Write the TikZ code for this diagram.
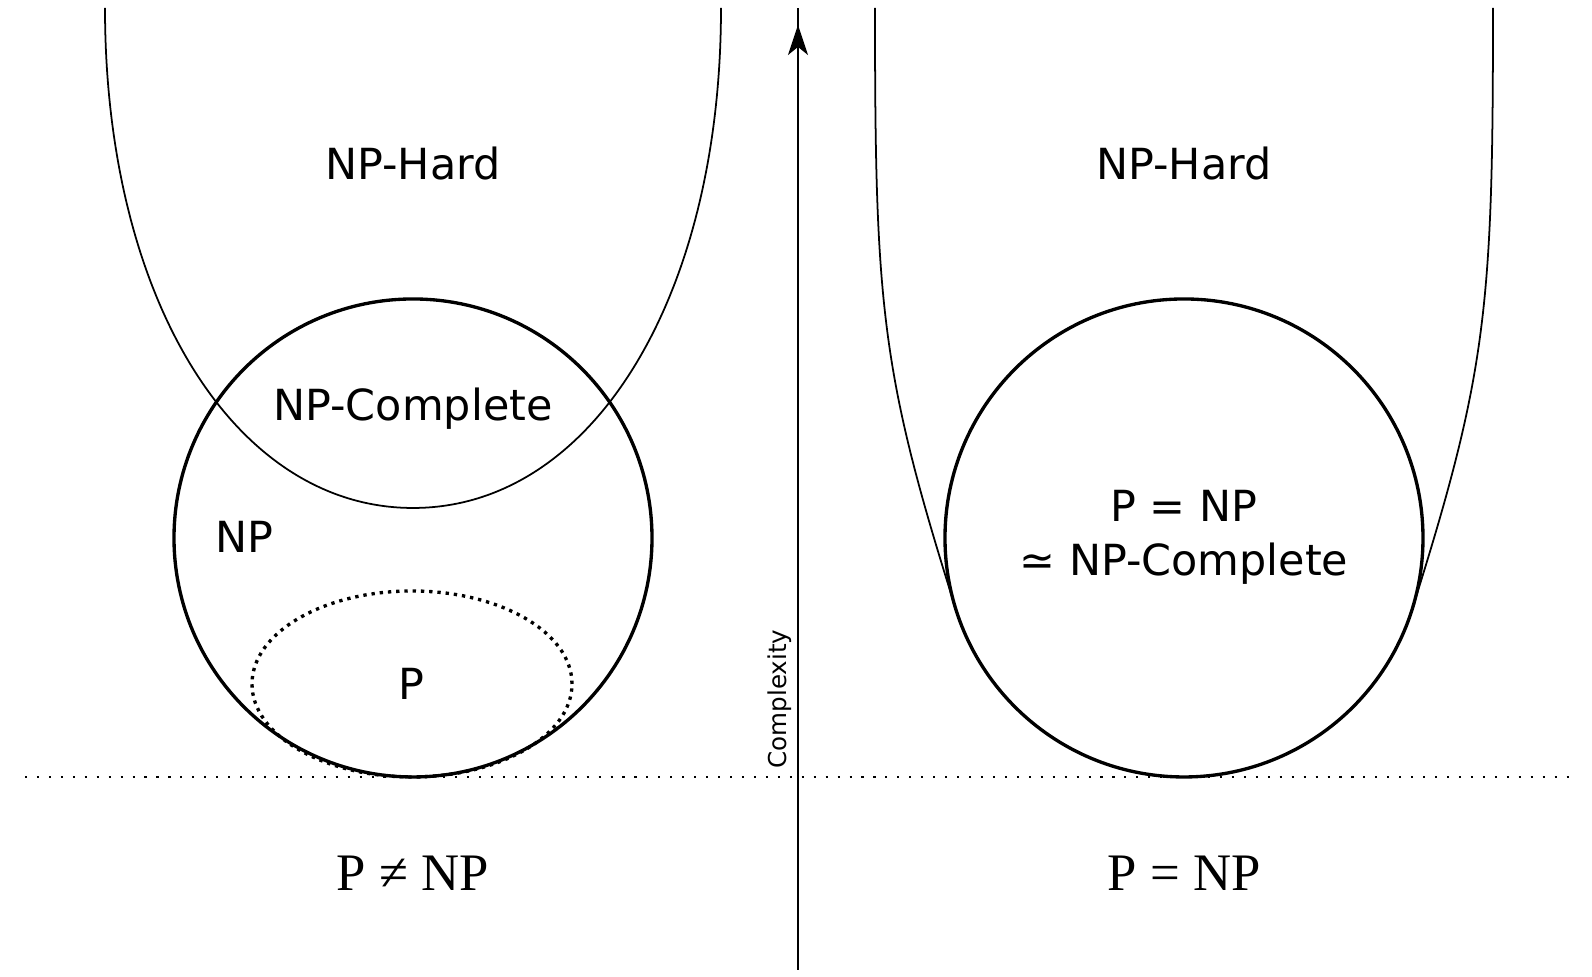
\documentclass[tikz,border=0pt]{standalone}
\usepackage{fontspec}
\setmainfont{DejaVu Sans}
\newfontfamily\casefont{Liberation Serif}
\usetikzlibrary{arrows.meta}

\begin{document}
\begin{tikzpicture}[
  setline/.style={line width=0.95pt},
  hardline/.style={line width=0.5pt},
  classlbl/.style={font=\fontsize{12.2}{15}\selectfont, anchor=base, inner sep=0pt},
  caselbl/.style={font=\casefont\fontsize{15}{18}\selectfont, anchor=base, inner sep=0pt}]
\useasboundingbox (0,0) rectangle (15.92,9.77);

% zero line
\coordinate (base0) at (0.25,2.00);
\coordinate (base1) at (15.69,2.00);
\draw[line width=0.6pt, dash pattern=on 0.6pt off 2.8pt] (base0) -- (base1);

% complexity axis
\coordinate (axbot) at (7.98,0.07);
\coordinate (axtop) at (7.98,9.69);
\coordinate (axtip) at (7.98,9.52);
\draw[line width=0.7pt] (axbot) -- (axtop);
\draw[line width=0.7pt, -{Stealth[length=0.30cm,width=0.20cm,inset=0.08cm]}] (axbot) -- (axtip);
\node[font=\fontsize{7}{8}\selectfont, rotate=90, inner sep=0pt] (cplx) at (7.80,2.78) {Complexity};

% NP-hard regions
\draw[hardline] (1.05,9.69) .. controls (1.05,6.79) and (2.34,4.69) .. (4.13,4.69)
  .. controls (5.92,4.69) and (7.21,6.79) .. (7.21,9.69);
\draw[hardline] (8.75,9.69) .. controls (8.75,6.69) and (8.81,6.05) .. (9.561,3.671)
  arc (197.5:342.5:2.39) .. controls (14.87,6.05) and (14.93,6.69) .. (14.93,9.69);

% NP circles
\foreach \cx in {4.13,11.84} {
\draw[setline] (\cx,4.39) circle (2.39);}

% P
\draw[line width=0.95pt, dash pattern=on 0.95pt off 1.4pt] (4.12,2.93) ellipse (1.60 and 0.93);

\node[classlbl] (hardL) at (4.13,7.97) {NP-Hard};
\node[classlbl] (hardR) at (11.84,7.97) {NP-Hard};
\node[classlbl] (npc) at (4.13,5.56) {NP-Complete};
\node[classlbl] (np) at (2.44,4.24) {NP};
\node[classlbl] (p) at (4.11,2.77) {P};
\node[classlbl] (peq) at (11.84,4.55) {P = NP};
\node[classlbl] (peqc) at (11.84,4.01) {≃ NP-Complete};

\node[caselbl] (neq) at (4.13,0.86) {P ≠ NP};
\node[caselbl] (eq) at (11.84,0.86) {P = NP};

\end{tikzpicture}
\end{document}
